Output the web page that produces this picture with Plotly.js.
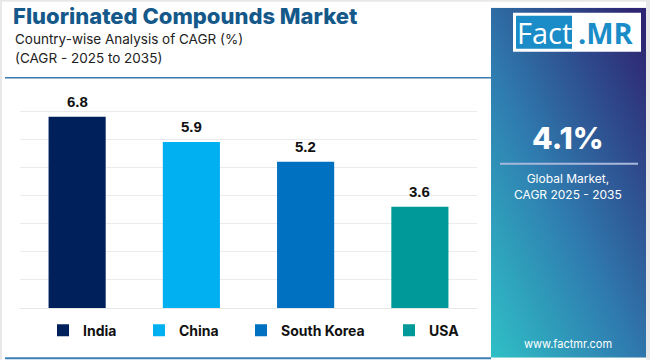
<!DOCTYPE html>
<html><head><meta charset="utf-8">
<script src="https://cdn.plot.ly/plotly-3.0.1.min.js"></script>
<style>html,body{margin:0;padding:0;background:#fff}#chart{width:650px;height:360px}</style>
</head><body><div id="chart"></div>
<script>
// ---- data ----
const countries = ["India", "China", "South Korea", "USA"];
const cagr = [6.8, 5.9, 5.2, 3.6];
const barColors = ["#00205b", "#00b0f0", "#0070c0", "#009999"];
const yTicks = [0, 1, 2, 3, 4, 5, 6, 7, 8];
const globalCagr = "4.1%";

// ---- geometry helpers (pixel -> paper) ----
const W = 650, H = 360;
const L = 20, R = 477, T = 83.3, B = 308.3;
const xp = px => (px - L) / (R - L);
const yp = py => (B - py) / (B - T);

const legendX = [43, 139, 241, 389];
const traces = countries.map((c, i) => ({
  type: "bar", x: [c], y: [cagr[i]], name: c,
  marker: {color: barColors[i]}, width: 0.5,
  legend: i === 0 ? "legend" : "legend" + (i + 1),
  hoverinfo: "skip"
}));

const legendBase = {orientation: "h", yanchor: "middle", xanchor: "left", y: yp(331),
  font: {family: "Inter, 'Open Sans', sans-serif", size: 14, color: "#111", weight: 700},
  bgcolor: "rgba(0,0,0,0)", borderwidth: 0};

const panelSvg = '<svg xmlns="http://www.w3.org/2000/svg" width="155" height="350" preserveAspectRatio="none">' +
  '<defs><linearGradient id="g" x1="0" y1="1" x2="0.9" y2="0">' +
  '<stop offset="0" stop-color="#2fc0c6"/><stop offset="0.45" stop-color="#2f7db0"/>' +
  '<stop offset="1" stop-color="#2e2672"/></linearGradient></defs>' +
  '<rect width="155" height="350" fill="url(#g)"/></svg>';
const panelSrc = "data:image/svg+xml;base64," + btoa(panelSvg);

const annotations = countries.map((c, i) => ({
  x: c, y: cagr[i], xref: "x", yref: "y", text: cagr[i].toFixed(1),
  showarrow: false, yanchor: "bottom", yshift: 5,
  font: {family: "'Liberation Sans', Arial, sans-serif", size: 15, color: "#111", weight: 700}
}));

const fontMain = "Inter, 'Open Sans', sans-serif";
annotations.push(
  {xref: "paper", yref: "paper", x: xp(13), y: yp(39), xanchor: "left", yanchor: "middle", showarrow: false,
   text: "Country-wise Analysis of CAGR (%)", font: {family: fontMain, size: 13.5, color: "#222"}},
  {xref: "paper", yref: "paper", x: xp(13), y: yp(58), xanchor: "left", yanchor: "middle", showarrow: false,
   text: "(CAGR - 2025 to 2035)", font: {family: fontMain, size: 13.5, color: "#222"}},
  {xref: "paper", yref: "paper", x: xp(568), y: yp(138), xanchor: "center", yanchor: "middle", showarrow: false,
   text: globalCagr, font: {family: fontMain, size: 30, color: "#fff", weight: 800}},
  {xref: "paper", yref: "paper", x: xp(568), y: yp(187), xanchor: "center", yanchor: "middle", showarrow: false,
   text: "Global Market,<br>CAGR 2025 - 2035", font: {family: fontMain, size: 12, color: "#fff"}},
  {xref: "paper", yref: "paper", x: xp(568), y: yp(344), xanchor: "center", yanchor: "middle", showarrow: false,
   text: "www.factmr.com", font: {family: fontMain, size: 11, color: "#fff"}},
  {xref: "paper", yref: "paper", x: xp(544), y: yp(33), xanchor: "center", yanchor: "middle", showarrow: false,
   text: "Fact", font: {family: "'Open Sans', sans-serif", size: 29, color: "#fff"}},
  {xref: "paper", yref: "paper", x: xp(606), y: yp(33), xanchor: "center", yanchor: "middle", showarrow: false,
   text: ".MR", font: {family: "'Open Sans', sans-serif", size: 29, color: "#1a8cc8", weight: 700}}
);

const shapes = [
  {type: "rect", xref: "paper", yref: "paper", x0: xp(0), x1: xp(W), y0: yp(0), y1: yp(2), fillcolor: "#e8e8e8", line: {width: 0}, layer: "below"},
  {type: "rect", xref: "paper", yref: "paper", x0: xp(0), x1: xp(2), y0: yp(0), y1: yp(H), fillcolor: "#e8e8e8", line: {width: 0}, layer: "below"},
  {type: "rect", xref: "paper", yref: "paper", x0: xp(646), x1: xp(W), y0: yp(0), y1: yp(H), fillcolor: "#e8e8e8", line: {width: 0}, layer: "below"},
  {type: "line", xref: "paper", yref: "paper", x0: xp(5), x1: xp(491), y0: yp(78), y1: yp(78), line: {color: "#3a78b0", width: 1.5}},
  {type: "line", xref: "paper", yref: "paper", x0: xp(5), x1: xp(491), y0: yp(358.5), y1: yp(358.5), line: {color: "#3a80b5", width: 2}},
  {type: "line", xref: "paper", yref: "paper", x0: xp(500), x1: xp(638), y0: yp(164), y1: yp(164), line: {color: "#a9b8dc", width: 2}},
  {type: "rect", xref: "paper", yref: "paper", x0: xp(513), x1: xp(641), y0: yp(13), y1: yp(52), fillcolor: "#fff", line: {width: 0}},
  {type: "rect", xref: "paper", yref: "paper", x0: xp(516), x1: xp(572), y0: yp(16), y1: yp(49), fillcolor: "#1a8cc8", line: {width: 0}}
];

const layout = {
  width: W, height: H,
  margin: {l: L, r: W - R, t: T, b: H - B, pad: 0},
  paper_bgcolor: "#ffffff", plot_bgcolor: "rgba(0,0,0,0)",
  barmode: "overlay",
  title: {text: "Fluorinated Compounds Market", xref: "container", yref: "container",
    x: 13 / W, xanchor: "left", y: 1 - 16.5 / H, yanchor: "middle",
    font: {family: fontMain, size: 22, color: "#15598a", weight: 800}},
  xaxis: {type: "category", categoryarray: countries, showticklabels: false, showgrid: false, zeroline: false, showline: false, fixedrange: true},
  yaxis: {range: [0, 8], tickvals: yTicks, showticklabels: false, gridcolor: "#ebebeb", gridwidth: 1, zeroline: true, zerolinecolor: "#e6e6e6", showline: false, fixedrange: true},
  showlegend: true,
  legend: Object.assign({}, legendBase, {x: xp(legendX[0])}),
  legend2: Object.assign({}, legendBase, {x: xp(legendX[1])}),
  legend3: Object.assign({}, legendBase, {x: xp(legendX[2])}),
  legend4: Object.assign({}, legendBase, {x: xp(legendX[3])}),
  images: [{source: panelSrc, xref: "paper", yref: "paper", x: xp(491), y: yp(8), sizex: (646 - 491) / (R - L), sizey: (358 - 8) / (B - T),
    xanchor: "left", yanchor: "top", sizing: "stretch", layer: "below"}],
  shapes: shapes,
  annotations: annotations
};

Plotly.newPlot("chart", traces, layout, {displayModeBar: false, staticPlot: true});
</script></body></html>
